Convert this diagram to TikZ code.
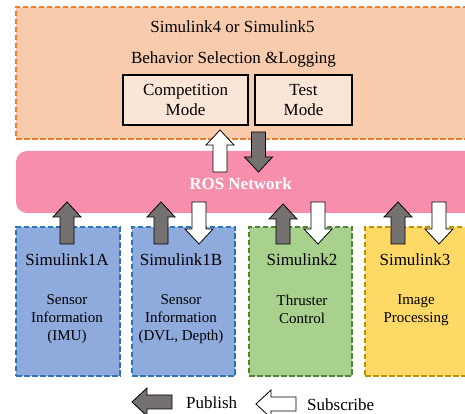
\documentclass[tikz,border=0pt]{standalone}
\usepackage{fontspec}
\setmainfont{Liberation Serif}
\usetikzlibrary{calc}
\definecolor{orfill}{HTML}{F8CBAD}
\definecolor{ordraw}{HTML}{ED7D31}
\definecolor{modefill}{HTML}{FBE5D6}
\definecolor{rosfill}{HTML}{F68EAC}
\definecolor{bluefill}{HTML}{8FAADC}
\definecolor{bluedraw}{HTML}{2E75B6}
\definecolor{greenfill}{HTML}{A9D18E}
\definecolor{greendraw}{HTML}{548235}
\definecolor{yelfill}{HTML}{FFD966}
\definecolor{yeldraw}{HTML}{BF9000}
\definecolor{darkarrow}{HTML}{767171}
\newcommand\blockarrow[3]{%
  \coordinate (bahead) at ($(#3)!15pt!(#2)$);
  \draw[arrowline,#1] ($(#2)!7pt!90:(#3)$) -- ($(bahead)!7pt!-90:(#2)$) --
    ($(bahead)!14pt!-90:(#2)$) -- (#3) -- ($(bahead)!14pt!90:(#2)$) --
    ($(bahead)!7pt!90:(#2)$) -- ($(#2)!7pt!-90:(#3)$) -- cycle;}
\begin{document}
\begin{tikzpicture}[x=1pt,y=1pt,
  dashbox/.style={draw, line width=2.4pt, dash pattern=on 5.5pt off 2.5pt, inner sep=0pt},
  modebox/.style={draw=black, line width=2.4pt, fill=modefill, minimum height=50pt, inner sep=0pt, align=center, font=\fontsize{17}{20}\selectfont},
  titletext/.style={anchor=base, inner sep=0pt, font=\fontsize{17}{20}\selectfont},
  desctext/.style={anchor=north, inner sep=0pt, align=center, font=\fontsize{15}{18}\selectfont},
  arrowline/.style={draw=black, line width=0.8pt, line join=miter},
  pubarrow/.style={fill=darkarrow},
  subarrow/.style={fill=white}]
\clip (0,0) rectangle (465,414);
% top block
\node[dashbox, draw=ordraw, fill=orfill, minimum width=464pt, minimum height=132pt] (top) at (248,341) {};
\node[titletext] (ttitle) at (232.5,381) {Simulink4 or Simulink5};
\node[titletext] (tsub) at (233.5,350) {Behavior Selection \&Logging};
\node[modebox, minimum width=125pt] (comp) at (185.5,314) {Competition\\Mode};
\node[modebox, minimum width=97pt] (test) at (303.5,314) {Test\\Mode};
% ROS network
\node[fill=rosfill, rounded corners=11pt, minimum width=464pt, minimum height=62pt, inner sep=0pt] (ros) at (248,232) {};
\node[anchor=base, inner sep=0pt, text=white, font=\fontsize{17}{20}\selectfont\bfseries] (rostext) at (240.5,224) {ROS Network};
% bottom blocks
\node[dashbox, draw=bluedraw, fill=bluefill, minimum width=104pt, minimum height=149pt] (s1a) at (68,112.5) {};
\node[dashbox, draw=bluedraw, fill=bluefill, minimum width=103pt, minimum height=149pt] (s1b) at (183.5,112.5) {};
\node[dashbox, draw=greendraw, fill=greenfill, minimum width=103pt, minimum height=149pt] (s2) at (300.5,112.5) {};
\node[dashbox, draw=yeldraw, fill=yelfill, minimum width=106pt, minimum height=149pt] (s3) at (418,112.5) {};
\node[titletext] (s1at) at (67,148) {Simulink1A};
\node[titletext] (s1bt) at (181,148) {Simulink1B};
\node[titletext] (s2t) at (302,148) {Simulink2};
\node[titletext] (s3t) at (415,148) {Simulink3};
\node[desctext] (s1ad) at (67,119.5) {Sensor\\Information\\(IMU)};
\node[desctext] (s1bd) at (181,119.5) {Sensor\\Information\\(DVL, Depth)};
\node[desctext] (s2d) at (302,119.5) {Thruster\\Control};
\node[desctext] (s3d) at (416,119.5) {Image\\Processing};
% arrows between top and ROS
\coordinate (ua0) at (220,242); \coordinate (ua1) at (220,284);
\coordinate (da0) at (258.5,282); \coordinate (da1) at (258.5,242);
\blockarrow{subarrow}{ua0}{ua1}
\blockarrow{pubarrow}{da0}{da1}
% arrows between ROS and bottom blocks
\coordinate (p1a) at (67,170); \coordinate (p1b) at (67,212);
\coordinate (p2a) at (161,170); \coordinate (p2b) at (161,212);
\coordinate (p3a) at (283,170); \coordinate (p3b) at (283,210);
\coordinate (p4a) at (398,170); \coordinate (p4b) at (398,212);
\coordinate (q2a) at (199,212); \coordinate (q2b) at (199,170);
\coordinate (q3a) at (318,212); \coordinate (q3b) at (318,170);
\coordinate (q4a) at (439,212); \coordinate (q4b) at (439,170);
\blockarrow{pubarrow}{p1a}{p1b}
\blockarrow{pubarrow}{p2a}{p2b}
\blockarrow{pubarrow}{p3a}{p3b}
\blockarrow{pubarrow}{p4a}{p4b}
\blockarrow{subarrow}{q2a}{q2b}
\blockarrow{subarrow}{q3a}{q3b}
\blockarrow{subarrow}{q4a}{q4b}
% legend
\coordinate (lp0) at (172,12); \coordinate (lp1) at (132,12);
\coordinate (ls0) at (296,10); \coordinate (ls1) at (256,10);
\blockarrow{pubarrow}{lp0}{lp1}
\blockarrow{subarrow}{ls0}{ls1}
\node[anchor=base west, inner sep=0pt, font=\fontsize{17}{20}\selectfont] (pub) at (186,5) {Publish};
\node[anchor=base west, inner sep=0pt, font=\fontsize{17}{20}\selectfont] (sub) at (307,3) {Subscribe};
\end{tikzpicture}
\end{document}
